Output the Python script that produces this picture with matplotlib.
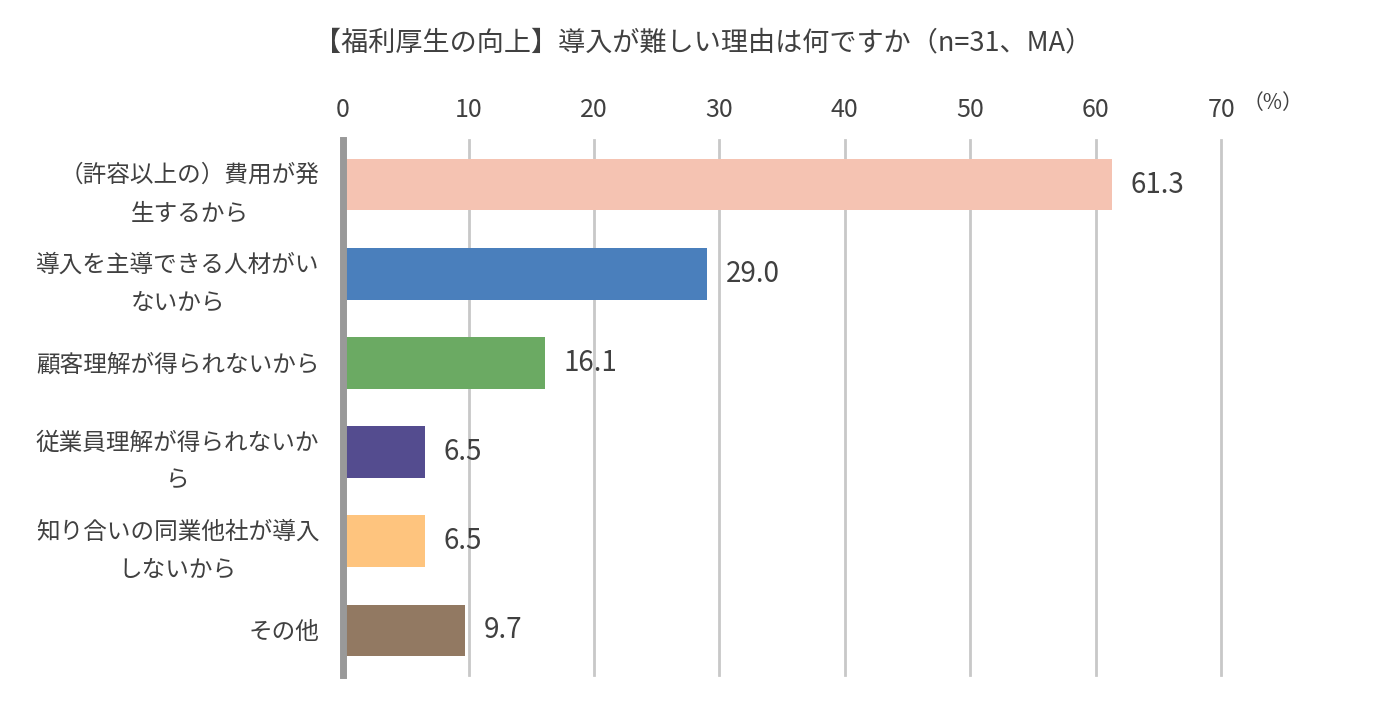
import matplotlib
matplotlib.use('Agg')
import matplotlib.pyplot as plt

plt.rcParams['font.family'] = ['Noto Sans CJK JP', 'DejaVu Sans']

labels = ['（許容以上の）費用が発\n生するから',
          '導入を主導できる人材がい\nないから',
          '顧客理解が得られないから',
          '従業員理解が得られないか\nら',
          '知り合いの同業他社が導入\nしないから',
          'その他']
values = [61.3, 29.0, 16.1, 6.5, 6.5, 9.7]
colors = ['#F5C3B2', '#4A7FBC', '#6BAA63', '#544C8F', '#FEC47E', '#927962']
ticks = [0, 10, 20, 30, 40, 50, 60, 70]
title = '【福利厚生の向上】導入が難しい理由は何ですか（n=31、MA）'

txt = '#404040'

fig = plt.figure(figsize=(13.85, 7.12), dpi=100)
ax = fig.add_axes([0.2477, 0.052, 0.634, 0.7514])

y = list(range(len(values)))
ax.barh(y, values, height=0.58, color=colors, zorder=3)
for yi, v in zip(y, values):
    ax.text(v + 1.5, yi, f'{v:.1f}', va='center', ha='left', fontsize=20, color=txt)

ax.set_xlim(0, 70)
ax.set_ylim(len(values) - 0.5, -0.5)
ax.set_xticks(ticks)
ax.xaxis.tick_top()
ax.tick_params(axis='x', length=0, pad=12, labelsize=18, labelcolor=txt)
ax.set_yticks(y)
ax.set_yticklabels(labels, fontsize=17, color=txt, linespacing=1.85,
                   multialignment='center')
ax.tick_params(axis='y', length=0, pad=17)
ax.grid(axis='x', color='#C8C8C8', linewidth=2, zorder=0)
for gl in ax.get_xgridlines():
    gl.set_clip_on(False)

for s in ['top', 'right', 'bottom']:
    ax.spines[s].set_visible(False)
ax.spines['left'].set_color('#999999')
ax.spines['left'].set_linewidth(5)
ax.spines['left'].set_zorder(4)

fig.text(0.919, 0.855, '（%）', fontsize=15, color=txt, ha='center', va='center')
fig.text(0.508, 0.94, title, fontsize=19.5, color=txt, ha='center', va='center')

fig.savefig('out.png', dpi=100)
